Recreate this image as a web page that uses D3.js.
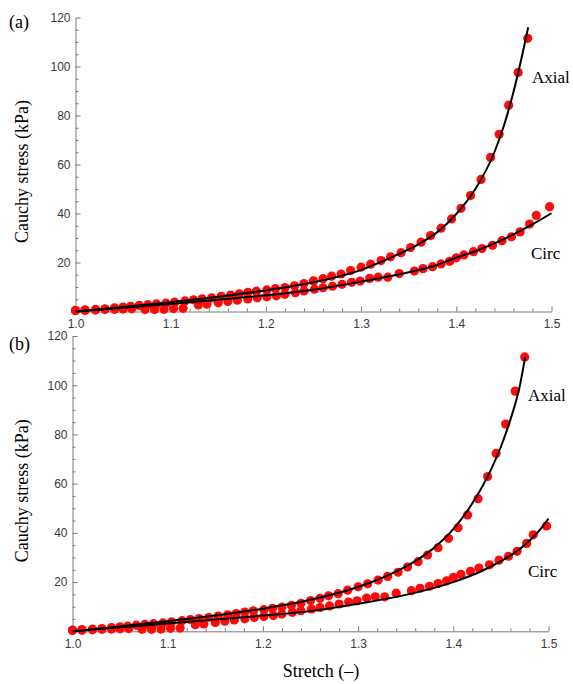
<!DOCTYPE html>
<html>
<head>
<meta charset="utf-8">
<script src="https://cdn.jsdelivr.net/npm/d3@7/dist/d3.min.js"></script>
<style>
  html, body { margin: 0; padding: 0; background: #fff; }
  svg { display: block; }
</style>
</head>
<body>
<svg id="chart" width="573" height="684"></svg>
<script>
// Measured stretch–stress data (same specimen shown in both panels)
const axialStretch = [1.000,1.010,1.021,1.031,1.041,1.050,1.058,1.067,1.076,1.085,1.095,1.104,1.115,1.124,1.133,1.143,1.153,1.163,1.172,1.181,1.190,1.201,1.210,1.220,1.230,1.240,1.250,1.260,1.269,1.279,1.289,1.300,1.310,1.321,1.331,1.342,1.352,1.363,1.373,1.384,1.395,1.405,1.415,1.426,1.436,1.445,1.455,1.465,1.475];
const axialStress  = [0.5,0.7,0.9,1.1,1.5,1.8,2.1,2.5,2.8,3.1,3.4,3.8,4.3,4.8,5.2,5.6,6.2,6.7,7.2,7.8,8.3,8.8,9.3,9.8,10.5,11.4,12.5,13.4,14.4,15.3,16.7,18.1,19.3,20.8,22.3,24.0,26.1,28.3,31.0,34.0,37.8,42.1,47.3,53.9,62.9,72.3,84.2,97.6,111.5];

const circStretch = [1.000,1.010,1.021,1.031,1.041,1.050,1.059,1.073,1.083,1.093,1.103,1.113,1.129,1.138,1.150,1.160,1.170,1.181,1.191,1.201,1.211,1.220,1.231,1.240,1.251,1.260,1.270,1.280,1.290,1.299,1.309,1.318,1.328,1.340,1.356,1.365,1.375,1.384,1.393,1.400,1.408,1.418,1.427,1.438,1.448,1.458,1.467,1.477,1.484,1.498];
const circStress  = [0.3,0.4,0.6,0.8,0.9,1.0,1.1,0.8,0.8,0.9,1.2,1.3,2.7,3.0,3.6,4.1,4.6,5.1,5.6,6.0,6.4,7.0,7.7,8.4,9.1,9.7,10.3,11.1,11.9,12.4,13.5,14.0,14.0,15.5,16.5,17.5,18.3,19.4,20.5,21.9,23.1,24.4,25.7,27.0,28.9,30.5,32.5,35.7,39.2,42.8];

// Model fits, panel (a)
const fitAStretchAxial = [1.00,1.05,1.10,1.15,1.20,1.25,1.30,1.33,1.36,1.38,1.40,1.42,1.44,1.45,1.46,1.47,1.4755];
const fitAStressAxial  = [0,1.8,3.8,6.0,8.6,11.9,17.0,21.8,27.4,32.4,39.8,50.0,65.0,75.8,89.5,106,116];
const fitAStretchCirc  = [1.00,1.05,1.10,1.15,1.20,1.25,1.30,1.35,1.38,1.40,1.42,1.44,1.46,1.48,1.50];
const fitAStressCirc   = [0,1.5,3.1,4.8,6.6,8.9,12.2,16.0,19.0,22.0,24.6,27.8,31.5,35.6,40.1];

// Model fits, panel (b)
const fitBStretchAxial = [1.00,1.05,1.10,1.15,1.20,1.25,1.30,1.33,1.36,1.38,1.40,1.42,1.44,1.45,1.46,1.47,1.4755];
const fitBStressAxial  = [0,2.0,4.1,6.4,9.2,12.8,18.0,22.5,28.5,34.0,41.5,52,66,75,86,100,111.5];
const fitBStretchCirc  = [1.00,1.05,1.10,1.15,1.20,1.25,1.30,1.35,1.40,1.43,1.45,1.47,1.48,1.49,1.50];
const fitBStressCirc   = [0,1.6,3.2,4.8,6.4,8.2,11.2,14.8,20.0,24.5,28.5,33.5,36.8,40.8,45.8];

// Axis ticks
const stretchTicks = [1.0,1.1,1.2,1.3,1.4,1.5];
const stressTicks = [20,40,60,80,100,120];

const zip = (xs, ys) => xs.map((x, i) => [x, ys[i]]);

const svg = d3.select("#chart");

const panels = [
  { tag: "(a)", x0: 75.5, x1: 551.5, yTop: 17.5, yBot: 311.5,
    axialFit: zip(fitAStretchAxial, fitAStressAxial),
    circFit: zip(fitAStretchCirc, fitAStressCirc),
    tagY: 28, axialLabel: [532, 83], circLabel: [531, 259], xTitle: false },
  { tag: "(b)", x0: 72.5, x1: 548.5, yTop: 336, yBot: 631.3,
    axialFit: zip(fitBStretchAxial, fitBStressAxial),
    circFit: zip(fitBStretchCirc, fitBStressCirc),
    tagY: 350, axialLabel: [528, 401], circLabel: [528, 577], xTitle: true }
];

const axialPts = zip(axialStretch, axialStress);
const circPts = zip(circStretch, circStress);

const minorX = d3.range(1.0, 1.5001, 0.02).filter(v => Math.abs(v * 10 - Math.round(v * 10)) > 1e-6);
const minorY = d3.range(5, 120, 5).filter(v => v % 20 !== 0);

panels.forEach(p => {
  const x = d3.scaleLinear().domain([1.0, 1.5]).range([p.x0, p.x1]);
  const y = d3.scaleLinear().domain([0, 120]).range([p.yBot, p.yTop]);
  const g = svg.append("g");

  // minor ticks
  g.append("g").attr("transform", `translate(0,${p.yBot})`)
    .call(d3.axisBottom(x).tickValues(minorX).tickSizeInner(-3).tickSizeOuter(0).tickFormat(""))
    .call(s => s.select(".domain").remove());
  g.append("g").attr("transform", `translate(${p.x0},0)`)
    .call(d3.axisLeft(y).tickValues(minorY).tickSizeInner(-3).tickSizeOuter(0).tickFormat(""))
    .call(s => s.select(".domain").remove());

  // major axes
  const ax = g.append("g").attr("transform", `translate(0,${p.yBot})`)
    .call(d3.axisBottom(x).tickValues(stretchTicks).tickSizeInner(-5).tickSizeOuter(0)
      .tickPadding(8).tickFormat(d3.format(".1f")));
  const ay = g.append("g").attr("transform", `translate(${p.x0},0)`)
    .call(d3.axisLeft(y).tickValues(stressTicks).tickSizeInner(-5).tickSizeOuter(0)
      .tickPadding(5));

  g.selectAll(".tick line, .domain").attr("stroke", "#7a7a7a").attr("stroke-width", 1);
  [ax, ay].forEach(a => a.selectAll("text")
    .attr("font-family", "'Liberation Sans', Arial, sans-serif")
    .attr("font-size", 12).attr("fill", "#3a3a3a"));

  // data points
  const dots = g.append("g").attr("fill", "#ff0a0a");
  dots.selectAll("circle.ax").data(axialPts).join("circle").attr("class", "ax")
    .attr("cx", d => x(d[0])).attr("cy", d => y(d[1])).attr("r", 4.6);
  dots.selectAll("circle.ci").data(circPts).join("circle").attr("class", "ci")
    .attr("cx", d => x(d[0])).attr("cy", d => y(d[1])).attr("r", 4.6);

  // fitted curves
  const line = d3.line().x(d => x(d[0])).y(d => y(d[1])).curve(d3.curveMonotoneX);
  [p.axialFit, p.circFit].forEach(f => g.append("path").datum(f)
    .attr("d", line).attr("fill", "none").attr("stroke", "#000").attr("stroke-width", 2));

  const serif = "'Liberation Serif', 'Times New Roman', serif";
  g.append("text").attr("x", p.axialLabel[0]).attr("y", p.axialLabel[1])
    .attr("font-family", serif).attr("font-size", 17).text("Axial");
  g.append("text").attr("x", p.circLabel[0]).attr("y", p.circLabel[1])
    .attr("font-family", serif).attr("font-size", 17).text("Circ");
  g.append("text").attr("x", 9).attr("y", p.tagY)
    .attr("font-family", serif).attr("font-size", 18).text(p.tag);
  g.append("text")
    .attr("transform", `translate(28,${(p.yTop + p.yBot) / 2 + 7}) rotate(-90)`)
    .attr("text-anchor", "middle")
    .attr("font-family", serif).attr("font-size", 18).text("Cauchy stress (kPa)");
  if (p.xTitle) {
    g.append("text").attr("x", 321).attr("y", 677).attr("text-anchor", "middle")
      .attr("font-family", serif).attr("font-size", 18).text("Stretch (–)");
  }
});
</script>
</body>
</html>
